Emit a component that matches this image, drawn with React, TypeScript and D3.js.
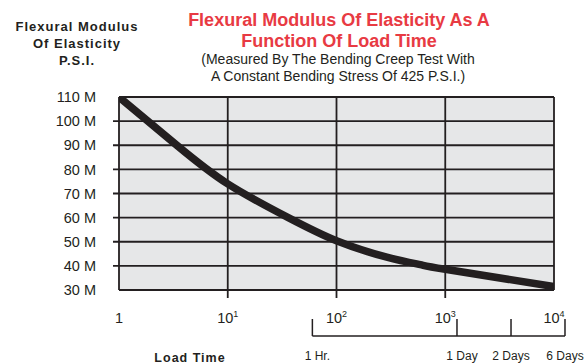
import React from "react";
import * as d3 from "d3";

const W = 585;
const H = 363;

// Data
const curveTime = [1, 3.4, 10, 36, 100, 290, 590, 1000, 10000];
const curveModulus = [110, 90, 74, 60, 50.4, 43.6, 40.5, 38.6, 31.4];

const yTicks = [30, 40, 50, 60, 70, 80, 90, 100, 110];
const xTicks = [1, 10, 100, 1000, 10000];
const xTickBase = ["1", "10", "10", "10", "10"];
const xTickExp = ["", "1", "2", "3", "4"];

const bracketLabels = ["1 Hr.", "1 Day", "2 Days", "6 Days"];
const bracketTimes = [60, 1282, 4025, 12620];

const titleLines = ["Flexural Modulus Of Elasticity As A", "Function Of Load Time"];
const subtitleLines = ["(Measured By The Bending Creep Test With", "A Constant Bending Stress Of 425 P.S.I.)"];
const yTitleLines = ["Flexural Modulus", "Of Elasticity", "P.S.I."];
const xTitle = "Load Time";

const FONT = "'Liberation Sans', Arial, Helvetica, sans-serif";
const INK = "#231f20";
const RED = "#e83a43";

export default function App() {
  const left = 119, right = 554, top = 97, bottom = 290;
  const x = d3.scaleLog().domain([1, 10000]).range([left, right]);
  const y = d3.scaleLinear().domain([30, 110]).range([bottom, top]);

  const pts: [number, number][] = curveTime.map((t, i) => [t, curveModulus[i]]);
  const line = d3
    .line<[number, number]>()
    .x((d) => x(d[0]))
    .y((d) => y(d[1]))
    .curve(d3.curveNatural);

  const bracketY = 336;
  const bracketTop = 319;
  const bx = bracketTimes.map((t) => x(t));

  return (
    <svg
      width={W}
      height={H}
      style={{ position: "absolute", left: 0, top: 0, background: "#fff" }}
      fontFamily={FONT}
    >
      <defs>
        <clipPath id="plotclip">
          <rect x={left} y={top} width={right - left} height={bottom - top} />
        </clipPath>
      </defs>

      {/* Titles */}
      {titleLines.map((s, i) => (
        <text key={s} x={339} y={26 + i * 21} textAnchor="middle" fontSize={18} fontWeight="bold" fill={RED}>
          {s}
        </text>
      ))}
      {subtitleLines.map((s, i) => (
        <text key={s} x={338} y={64 + i * 17} textAnchor="middle" fontSize={14} fill={INK}>
          {s}
        </text>
      ))}
      {yTitleLines.map((s, i) => (
        <text
          key={s}
          x={77}
          y={31 + i * 17}
          textAnchor="middle"
          fontSize={13}
          fontWeight="bold"
          letterSpacing={1}
          fill={INK}
        >
          {s}
        </text>
      ))}

      {/* Plot background */}
      <rect x={left} y={top} width={right - left} height={bottom - top} fill="#e6e7e8" />

      {/* Horizontal grid */}
      {yTicks.map((v, i) => {
        const isEdge = i === 0 || i === yTicks.length - 1;
        return (
          <line
            key={"h" + v}
            x1={isEdge ? left : 113}
            x2={right}
            y1={y(v)}
            y2={y(v)}
            stroke={INK}
            strokeWidth={1.8}
          />
        );
      })}
      {/* Vertical grid */}
      {xTicks.map((t, i) => {
        const isEdge = i === 0 || i === xTicks.length - 1;
        return (
          <line
            key={"v" + t}
            x1={x(t)}
            x2={x(t)}
            y1={top}
            y2={isEdge ? bottom : bottom + 8}
            stroke={INK}
            strokeWidth={1.8}
          />
        );
      })}

      {/* Curve */}
      <path
        d={line(pts) || ""}
        fill="none"
        stroke={INK}
        strokeWidth={7.5}
        strokeLinecap="square"
        clipPath="url(#plotclip)"
      />

      {/* Y tick labels */}
      {yTicks.map((v) => (
        <text key={"yl" + v} x={96} y={y(v)} dy="0.36em" textAnchor="end" fontSize={14.5} fill={INK}>
          {v} M
        </text>
      ))}

      {/* X tick labels */}
      {xTicks.map((t, i) => (
        <text key={"xl" + t} x={x(t)} y={323} textAnchor="middle" fontSize={14.5} fill={INK}>
          {xTickBase[i]}
          {xTickExp[i] && (
            <tspan fontSize={9} dy={-6}>
              {xTickExp[i]}
            </tspan>
          )}
        </text>
      ))}

      {/* Bracket axis */}
      <line x1={bx[0]} x2={bx[bx.length - 1]} y1={bracketY} y2={bracketY} stroke={INK} strokeWidth={1.5} />
      {bx.map((px, i) => (
        <line key={"bt" + i} x1={px} x2={px} y1={bracketTop} y2={bracketY} stroke={INK} strokeWidth={1.5} />
      ))}
      {bracketLabels.map((s, i) => (
        <text key={s} x={bx[i] + (i === 0 ? 5 : i === 1 ? 5 : 0)} y={360} textAnchor="middle" fontSize={12} fill={INK}>
          {s}
        </text>
      ))}

      {/* X title */}
      <text x={190} y={361.5} textAnchor="middle" fontSize={12.5} fontWeight="bold" letterSpacing={1} fill={INK}>
        {xTitle}
      </text>
    </svg>
  );
}
